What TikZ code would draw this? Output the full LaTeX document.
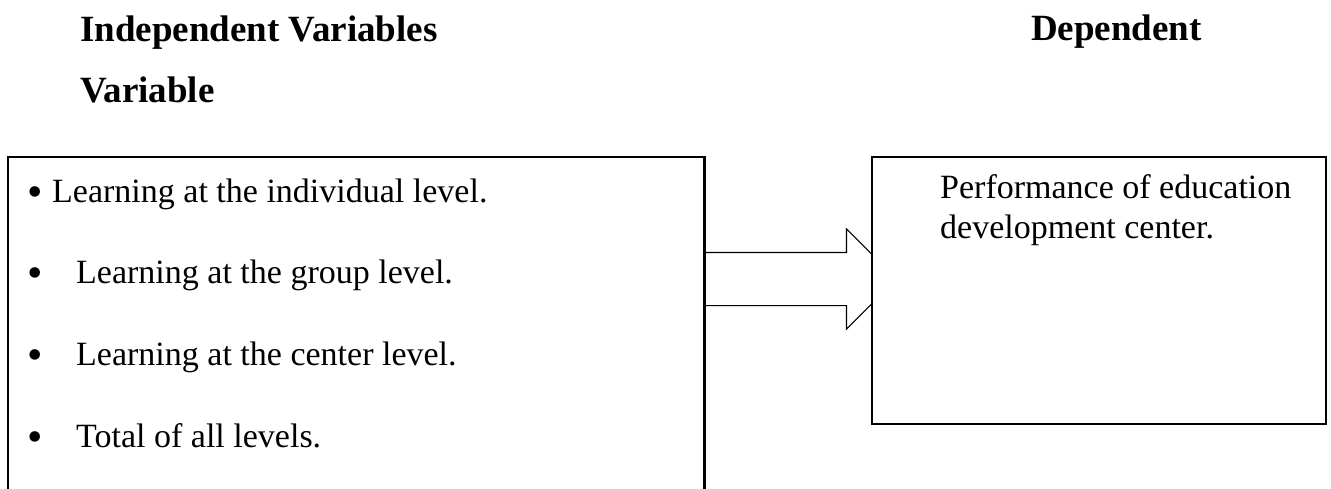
\documentclass[tikz,border=0pt]{standalone}
\usepackage{fontspec}
\setmainfont{Liberation Serif}
\usetikzlibrary{shapes.arrows}
\begin{document}
\begin{tikzpicture}[x=1pt,y=-1pt,
  boxstyle/.style={draw=black, line width=1.7pt, rectangle, inner sep=0pt, anchor=north west},
  headtext/.style={anchor=base west, inner sep=0pt, font=\fontsize{37}{44}\selectfont\bfseries},
  bodytext/.style={anchor=base west, inner sep=0pt, font=\fontsize{34}{40}\selectfont},
  bulletmark/.style={anchor=base west, inner sep=0pt, font=\fontsize{44}{44}\selectfont}]
\useasboundingbox (0,0) rectangle (1331,488);
\clip (0,0) rectangle (1331,488);
\fill[white] (0,0) rectangle (1331,488);
% headings
\node[headtext] (h1) at (80,41) {Independent Variables};
\node[headtext] (h2) at (80,102) {Variable};
\node[headtext] (h3) at (1031,40) {Dependent};
% left box (open below the picture)
\node[boxstyle, minimum width=696pt, minimum height=380pt] (lbox) at (7,156) {};
% block arrow
\node[single arrow, draw=black, line width=1.2pt, fill=white,
      inner xsep=0pt, inner ysep=26pt, text height=0pt, text depth=0pt, text width=0pt,
      minimum height=193pt, single arrow head extend=23.5pt,
      single arrow tip angle=90, anchor=tail] (arr) at (703,279) {};
\draw[line width=1.7pt] (lbox.north east) -- (lbox.south east);
% right box
\node[boxstyle, fill=white, minimum width=454pt, minimum height=267pt] (rbox) at (871,156) {};
% bullets left
\node[bulletmark] (b1) at (27,206) {•};
\node[bodytext] (t1) at (52,202) {Learning at the individual level.};
\node[bulletmark] (b2) at (27,287) {•};
\node[bodytext] (t2) at (76,283) {Learning at the group level.};
\node[bulletmark] (b3) at (27,369) {•};
\node[bodytext] (t3) at (76,365) {Learning at the center level.};
\node[bulletmark] (b4) at (27,451) {•};
\node[bodytext] (t4) at (76,447) {Total of all levels.};
% right text
\node[bodytext] (r1) at (940,198) {Performance of education};
\node[bodytext] (r2) at (940,238) {development center.};
\end{tikzpicture}
\end{document}
